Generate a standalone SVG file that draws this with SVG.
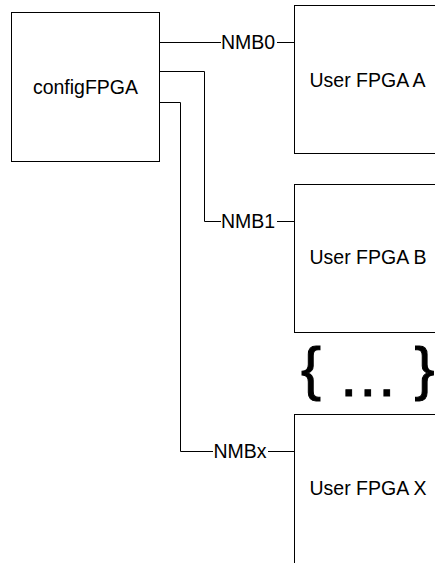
<svg xmlns="http://www.w3.org/2000/svg" width="435" height="563" viewBox="0 0 435 563">
<style>
.box{fill:#fff;stroke:#000;stroke-width:1}
.wire{fill:none;stroke:#000;stroke-width:1}
text{font-family:"Liberation Sans",Arial,sans-serif;fill:#000}
.lbl{font-size:19.5px}
.nm{font-size:19.5px}
.dots{font-size:60px;stroke:#000;stroke-width:1px}
</style>
<rect width="435" height="563" fill="#fff"/>
<g id="connectors">
<path class="wire" d="M159.5,42.5 H221 M277,42.5 H294.5"/>
<path class="wire" d="M159.5,71.5 H204.5 V221.5 H221 M277,221.5 H294.5"/>
<path class="wire" d="M159.5,102.5 H180.5 V451.5 H213 M268,451.5 H294.5"/>
<text class="nm" x="221" y="49">NMB0</text>
<text class="nm" x="221" y="228">NMB1</text>
<text class="nm" x="213.5" y="458">NMBx</text>
</g>
<g id="configFPGA">
<rect class="box" x="11.5" y="12.5" width="148" height="149"/>
<text class="lbl" x="85.5" y="93.5" text-anchor="middle">configFPGA</text>
</g>
<g id="fpgaA">
<rect class="box" x="294.5" y="5.5" width="150" height="148"/>
<text class="lbl" x="309.5" y="86.5">User FPGA A</text>
</g>
<g id="fpgaB">
<rect class="box" x="294.5" y="184.5" width="150" height="148"/>
<text class="lbl" x="309.5" y="264">User FPGA B</text>
</g>
<g id="ellipsis">
<text class="dots" x="301" y="389">{ <tspan dy="7">…</tspan><tspan dy="-7"> }</tspan></text>
</g>
<g id="fpgaX">
<rect class="box" x="294.5" y="414.5" width="150" height="150"/>
<text class="lbl" x="309.5" y="495">User FPGA X</text>
</g>
</svg>
